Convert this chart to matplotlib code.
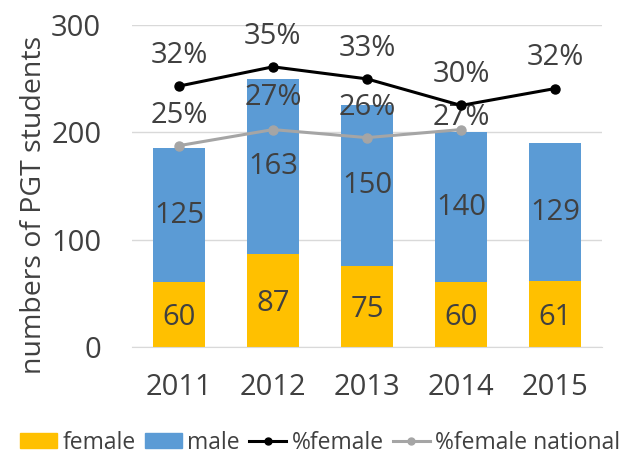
import matplotlib
matplotlib.use("Agg")
import matplotlib.pyplot as plt
from matplotlib.lines import Line2D
from matplotlib.patches import Patch

plt.rcParams['font.family'] = ['Open Sans', 'DejaVu Sans']

years = ["2011", "2012", "2013", "2014", "2015"]
female = [60, 87, 75, 60, 61]
male = [125, 163, 150, 140, 129]
pct_female = [0.324, 0.348, 0.333, 0.300, 0.321]
pct_national = [0.25, 0.27, 0.26, 0.27]

GOLD = "#FFC000"
BLUE = "#5B9BD5"
GRAY = "#A5A5A5"
TEXT = "#404040"


def main():
    fig = plt.figure(figsize=(6.22, 4.54), dpi=100)
    ax = fig.add_axes([0.212, 0.236, 0.756, 0.709])
    x = list(range(len(years)))
    w = 0.56
    fs = 21

    ax.bar(x, female, w, color=GOLD, zorder=2)
    ax.bar(x, male, w, bottom=female, color=BLUE, zorder=2)

    for i in x:
        ax.text(i, female[i] / 2 - 3, str(female[i]), ha="center", va="center",
                fontsize=fs, color=TEXT, zorder=5)
        ax.text(i, female[i] + male[i] / 2, str(male[i]), ha="center",
                va="center", fontsize=fs, color=TEXT, zorder=5)

    ax.set_xlim(-0.5, 4.5)
    ax.set_ylim(0, 300)
    ax.set_yticks([0, 100, 200, 300])
    ax.set_xticks(x)
    ax.set_xticklabels(years)
    ax.tick_params(axis="both", length=0, labelsize=fs, labelcolor=TEXT)
    ax.tick_params(axis="y", pad=22)
    ax.tick_params(axis="x", pad=19)
    ax.grid(axis="y", color="#D9D9D9", lw=1, zorder=0)
    for s in ["top", "right", "left"]:
        ax.spines[s].set_visible(False)
    ax.spines["bottom"].set_color("#D9D9D9")
    ax.set_ylabel("numbers of PGT students", fontsize=20.5, color=TEXT)
    ax.yaxis.set_label_coords(-0.178, 0.44)

    ax2 = ax.twinx()
    ax2.set_ylim(0, 0.4)
    ax2.axis("off")
    ax2.plot(x, pct_female, color="black", lw=2.2, marker="o", ms=6.5, zorder=4)
    ax2.plot(x[:len(pct_national)], pct_national, color=GRAY, lw=2.2,
             marker="o", ms=6.5, zorder=3)
    for i, v in enumerate(pct_female):
        ax2.annotate(f"{v:.0%}", (i, v), xytext=(0, 22), textcoords="offset points",
                     ha="center", va="center", fontsize=fs, color=TEXT)
    nat_offsets = [22, 23, 22, 9]
    for i, v in enumerate(pct_national):
        ax2.annotate(f"{v:.0%}", (i, v), xytext=(0, nat_offsets[i]),
                     textcoords="offset points", ha="center", va="center",
                     fontsize=fs, color=TEXT)

    handles = [
        Patch(color=GOLD, label="female"),
        Patch(color=BLUE, label="male"),
        Line2D([], [], color="black", lw=2.2, marker="o", ms=5, label="%female"),
        Line2D([], [], color=GRAY, lw=2.2, marker="o", ms=5, label="%female national"),
    ]
    fig.legend(handles=handles, loc="center", bbox_to_anchor=(0.515, 0.025),
               ncol=4, frameon=False, fontsize=16.5, handlelength=1.6,
               handleheight=0.6, handletextpad=0.25, columnspacing=0.4,
               labelcolor=TEXT)

    fig.savefig("out.png", dpi=100)


if __name__ == "__main__":
    main()
